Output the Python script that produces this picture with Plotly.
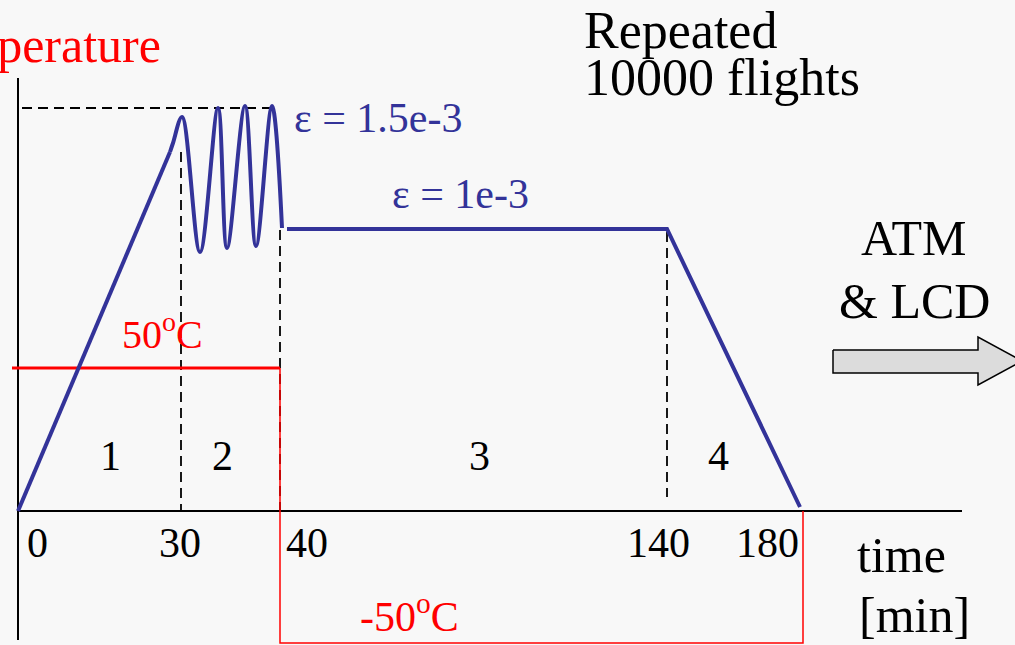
import plotly.graph_objects as go

# ---- schematic data (x: schematic time position, y: schematic level) ----
ramp_x = [0, 152]
ramp_y = [0, 359]

cycle_x = [152, 155, 164, 182, 200, 209, 227, 238, 254, 264]
cycle_y = [359, 368, 394, 259, 403, 263, 405, 265, 405, 283]

cruise_x = [269, 649, 782]
cruise_y = [282, 282, 4]

peak_ref_x = [4, 254]
peak_ref_y = [403, 403]

phase_bound_x = [163, 262, 649]
phase_bound_top = [359, 281, 279]
phase_bound_bottom = [0, 0, 14]

hot_x = [-6, 262]
hot_y = [143, 143]
cold_x = [262, 262, 785, 785]
cold_y = [143, -132, -132, 0]

tick_labels = ["0", "30", "40", "140", "180"]
tick_label_x = [19, 162, 289, 640, 749]

phase_labels = ["1", "2", "3", "4"]
phase_label_x = [92, 204, 461, 700]

arrow_x = [815, 960, 960, 1004, 960, 960, 815, 815]
arrow_y = [161, 161, 174, 150, 126, 138, 138, 161]

BLUE = "#333399"
RED = "#ff0000"
FONT = "Liberation Serif, Times New Roman, serif"

fig = go.Figure()

# axes lines
fig.add_trace(go.Scatter(x=[0, 944], y=[0, 0], mode="lines",
                         line=dict(color="black", width=2), hoverinfo="skip"))
fig.add_trace(go.Scatter(x=[0, 0], y=[433, -129], mode="lines",
                         line=dict(color="black", width=2), hoverinfo="skip"))

# dashed guides
fig.add_trace(go.Scatter(x=peak_ref_x, y=peak_ref_y, mode="lines",
                         line=dict(color="black", width=1.8, dash="10px,6px"), hoverinfo="skip"))
for bx, t, b in zip(phase_bound_x, phase_bound_top, phase_bound_bottom):
    fig.add_trace(go.Scatter(x=[bx, bx], y=[t, b], mode="lines",
                             line=dict(color="black", width=1.8, dash="10px,6px"), hoverinfo="skip"))

# red temperature lines
fig.add_trace(go.Scatter(x=hot_x, y=hot_y, mode="lines",
                         line=dict(color=RED, width=3), hoverinfo="skip"))
fig.add_trace(go.Scatter(x=cold_x, y=cold_y, mode="lines",
                         line=dict(color=RED, width=1.5), hoverinfo="skip"))

# blue strain profile
fig.add_trace(go.Scatter(x=ramp_x, y=ramp_y, mode="lines",
                         line=dict(color=BLUE, width=4), hoverinfo="skip"))
fig.add_trace(go.Scatter(x=cycle_x, y=cycle_y, mode="lines",
                         line=dict(color=BLUE, width=4, shape="spline", smoothing=1.0),
                         hoverinfo="skip"))
fig.add_trace(go.Scatter(x=cruise_x, y=cruise_y, mode="lines",
                         line=dict(color=BLUE, width=4), hoverinfo="skip"))

# arrow
fig.add_trace(go.Scatter(x=arrow_x, y=arrow_y, mode="lines", fill="toself",
                         fillcolor="#dcdcdc", line=dict(color="black", width=1.5),
                         hoverinfo="skip"))

ann = []


def txt(text, x, y, size, color="black", xanchor="center"):
    ann.append(dict(text=text, x=x, y=y, xref="x", yref="y", showarrow=False,
                    xanchor=xanchor, yanchor="middle",
                    font=dict(family=FONT, size=size, color=color)))


txt("Temperature", 145, 466, 50, RED, "right")
txt("Repeated", 564, 481, 52, "black", "left")
txt("10000 flights", 564, 434, 52, "black", "left")
txt("ε = 1.5e-3", 274, 393, 42, BLUE, "left")
txt("ε = 1e-3", 372, 317, 42, BLUE, "left")
txt("ATM", 896, 273, 50)
txt("& LCD", 896, 210, 50)
txt("50<sup>o</sup>C", 102, 180, 40, RED, "left")
txt("-50<sup>o</sup>C", 340, -102, 42, RED, "left")
for lab, lx in zip(tick_labels, tick_label_x):
    txt(lab, lx, -32, 42)
for lab, lx in zip(phase_labels, phase_label_x):
    txt(lab, lx, 55, 42)
txt("time", 837, -44, 50, "black", "left")
txt("[min]", 839, -104, 50, "black", "left")

fig.update_layout(
    width=1015, height=645,
    margin=dict(l=0, r=0, t=0, b=0),
    paper_bgcolor="#f8f8f8", plot_bgcolor="#f8f8f8",
    showlegend=False,
    xaxis=dict(range=[-18, 997], visible=False, fixedrange=True),
    yaxis=dict(range=[-134, 511], visible=False, fixedrange=True),
    annotations=ann,
)

fig.write_html(
    "out.html",
    config={"displayModeBar": False},
    post_script="document.body.style.margin='0px';document.body.style.overflow='hidden';",
)
